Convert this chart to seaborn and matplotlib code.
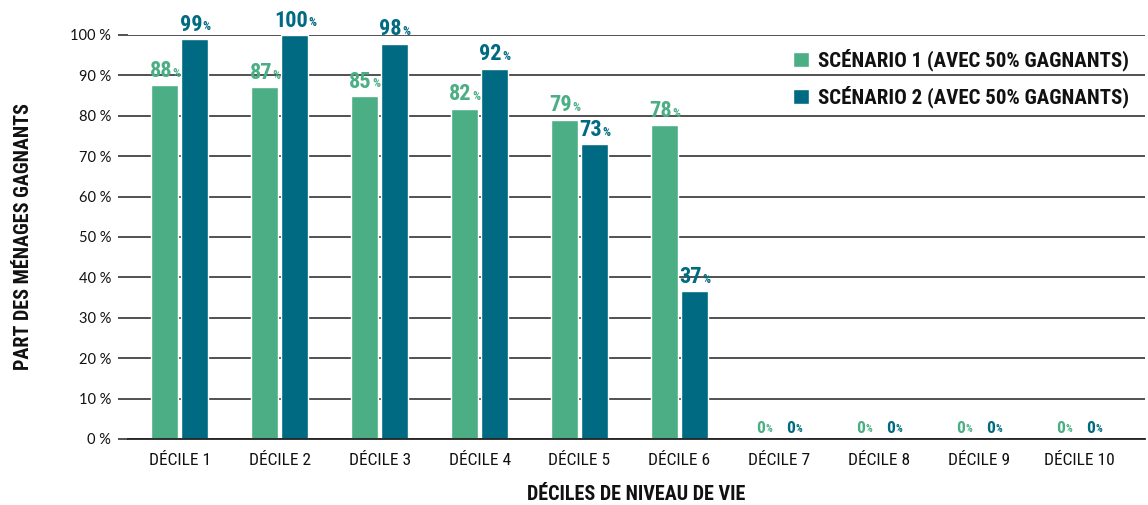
import numpy as np
import pandas as pd
import matplotlib
matplotlib.use("Agg")
import matplotlib.pyplot as plt
import seaborn as sns
from matplotlib import font_manager as fm

# ---------------- data ----------------
deciles = ["DÉCILE 1", "DÉCILE 2", "DÉCILE 3", "DÉCILE 4", "DÉCILE 5",
           "DÉCILE 6", "DÉCILE 7", "DÉCILE 8", "DÉCILE 9", "DÉCILE 10"]
scenario1 = [87.6, 87.1, 84.9, 81.7, 79.0, 77.6, 0, 0, 0, 0]
scenario2 = [99.0, 100.0, 97.8, 91.6, 73.0, 36.6, 0, 0, 0, 0]
series_names = ["SCÉNARIO 1 (AVEC 50% GAGNANTS)", "SCÉNARIO 2 (AVEC 50% GAGNANTS)"]
y_ticks = [0, 10, 20, 30, 40, 50, 60, 70, 80, 90, 100]
y_tick_labels = [f"{v} %" for v in y_ticks]
x_title = "DÉCILES DE NIVEAU DE VIE"
y_title = "PART DES MÉNAGES GAGNANTS"

colors = ["#4BAE84", "#006A82"]

df = pd.DataFrame({
    "decile": deciles * 2,
    "value": scenario1 + scenario2,
    "scenario": [series_names[0]] * len(deciles) + [series_names[1]] * len(deciles),
})

sns.set_theme(style="white")

# ---------------- fonts ----------------
names = {f.name for f in fm.fontManager.ttflist}
has_dv_cond = any(f.name == "DejaVu Sans" and f.stretch in ("condensed", 600, "semi-condensed")
                  for f in fm.fontManager.ttflist)
if "Liberation Sans Narrow" in names:
    cond = dict(family="Liberation Sans Narrow")
elif "Roboto Condensed" in names:
    cond = dict(family="Roboto Condensed")
elif has_dv_cond:
    cond = dict(family="DejaVu Sans", stretch="condensed")
else:
    cond = dict(family="Roboto")
extra = {k: v for k, v in cond.items() if k != "family"}
tick_family = "Lato" if "Lato" in names else "DejaVu Sans"
plt.rcParams["font.family"] = [cond["family"], "DejaVu Sans"]

W, H = 1148, 505
fig = plt.figure(figsize=(W / 100, H / 100), dpi=100)
ax = fig.add_axes([128 / W, 1 - 439 / H, (1145 - 128) / W, (439 - 35) / H])

sns.barplot(data=df, x="decile", y="value", hue="scenario", palette=colors,
            width=0.6, gap=0.1, ax=ax, saturation=1, errorbar=None)

ax.set_xlim(-0.52, 9.66)
ax.set_ylim(0, 100)
ax.set_yticks(y_ticks)
ax.set_yticklabels(y_tick_labels, family=tick_family, fontsize=10.5, color="#111111")
ax.set_axisbelow(True)
ax.yaxis.grid(True, color="#333333", linewidth=1.2)
ax.xaxis.grid(False)
for s in ["top", "right", "left"]:
    ax.spines[s].set_visible(False)
ax.spines["bottom"].set_color("#222222")
ax.spines["bottom"].set_linewidth(1.3)
ax.tick_params(axis="y", length=7, width=1.2, color="#333333", pad=5, left=True)
ax.tick_params(axis="x", length=0, pad=10)
for lab in ax.get_xticklabels():
    lab.set_fontproperties(fm.FontProperties(size=12.5, **cond))
    lab.set_color("#111111")

ax.set_xlabel(x_title, fontsize=14.5, fontweight="bold", labelpad=12, color="#111111", **extra)
ax.set_ylabel(y_title, fontsize=14.5, fontweight="bold", labelpad=27, color="#111111", **extra)

# value labels
for cont, col in zip(ax.containers, colors):
    for bar in cont:
        h = bar.get_height()
        xc = bar.get_x() + bar.get_width() / 2
        big = 16 if h > 0 else 12.5
        small = 9 if h > 0 else 7.5
        t = ax.annotate(f"{round(h):d}", xy=(xc, h), xytext=(-3 if h > 0 else -2.5, 2.5),
                        textcoords="offset points", ha="center", va="bottom",
                        fontsize=big, fontweight="bold", color=col, annotation_clip=False,
                        **extra)
        ax.annotate("%", xy=(1, 0), xycoords=t, xytext=(0.3, 1.5 if h > 0 else 1.0),
                    textcoords="offset points", ha="left", va="bottom",
                    fontsize=small, fontweight="bold", color=col, annotation_clip=False,
                    **extra)

handles, labels = ax.get_legend_handles_labels()
ax.legend(handles, labels, loc="upper right", bbox_to_anchor=(1140 / W, 1 - 38 / H),
          bbox_transform=fig.transFigure, frameon=False, borderpad=0,
          handlelength=0.75, handleheight=0.75, handletextpad=0.45, labelspacing=0.7,
          prop=fm.FontProperties(size=15, weight="bold", **cond), labelcolor="#111111")

fig.savefig("out.png", dpi=100)
